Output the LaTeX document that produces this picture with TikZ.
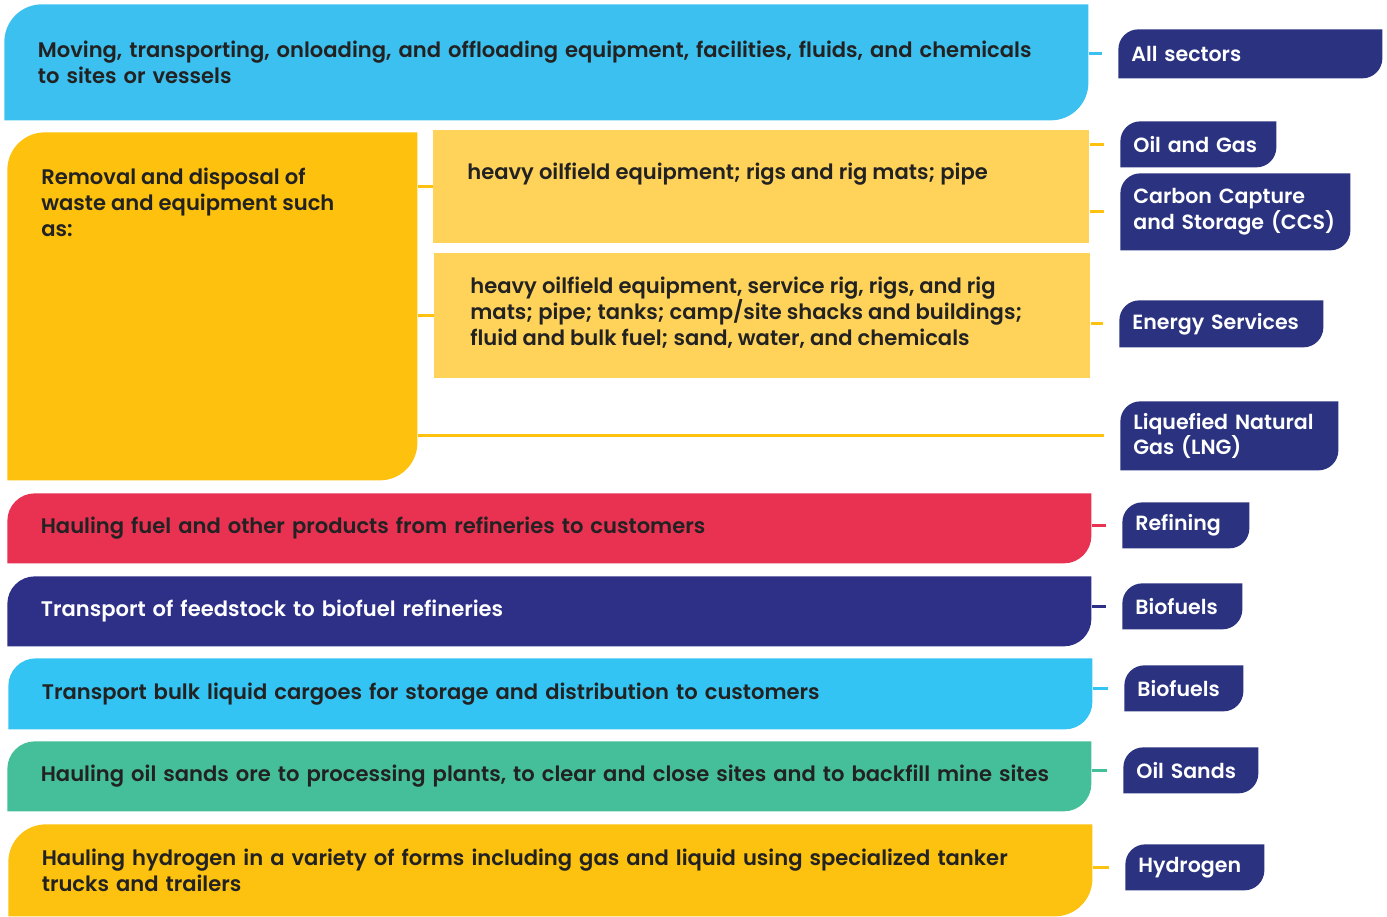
\documentclass[tikz,border=0pt]{standalone}
\usepackage{fontspec}
\setmainfont{Poppins}[UprightFont={* SemiBold},BoldFont={* Bold}]

\definecolor{movecyan}{HTML}{3CC0EF}
\definecolor{rmorange}{HTML}{FDC10E}
\definecolor{rigyellow}{HTML}{FFD35A}
\definecolor{refred}{HTML}{E93152}
\definecolor{feednavy}{HTML}{2E3087}
\definecolor{bulkcyan}{HTML}{33C4F4}
\definecolor{sandgreen}{HTML}{44BF99}
\definecolor{hydroyellow}{HTML}{FDC110}
\definecolor{labnavy}{HTML}{2B3380}
\definecolor{textdark}{HTML}{222222}

\tikzset{
  leaf/.style 2 args={path picture={
    \fill[#1] (path picture bounding box.south west)
      -- ([yshift=-#2]path picture bounding box.north west)
      arc[start angle=180, end angle=90, radius=#2]
      -- (path picture bounding box.north east)
      -- ([yshift=#2]path picture bounding box.south east)
      arc[start angle=0, end angle=-90, radius=#2]
      -- cycle;}},
  rowbox/.style={anchor=north west, inner xsep=0.67cm, inner ysep=0pt, text width=20.34cm, align=left, text=textdark, font=\fontsize{12}{14.8}\selectfont},
  subbox/.style={anchor=north west, fill=rigyellow, inner sep=0pt, minimum width=13.12cm},
  boxtext/.style={anchor=north west, inner sep=0pt, align=left, text=textdark, font=\fontsize{12}{14.8}\selectfont},
  sector/.style={anchor=north west, leaf={labnavy}{0.4cm}, inner xsep=0.26cm, inner ysep=0pt, align=left, text=white, font=\fontsize{11.7}{14.6}\selectfont},
  link/.style={line width=1.6pt, shorten >=0.32cm},
}

\begin{document}
\begin{tikzpicture}
\useasboundingbox (0,0) rectangle (27.74,-18.34);

\node[rowbox, leaf={movecyan}{0.75cm}, minimum height=2.32cm] (move) at (0.08,-0.08) {Moving, transporting, onloading, and offloading equipment, facilities, fluids, and chemicals\\to sites or vessels};

\node[leaf={rmorange}{0.75cm}, anchor=north west, inner sep=0pt, minimum width=8.20cm, minimum height=6.96cm] (removal) at (0.14,-2.64) {};
\node[boxtext] (removaltext) at ([xshift=0.68cm, yshift=-0.72cm]removal.north west) {Removal and disposal of\\waste and equipment such\\as:};

\node[subbox, minimum height=2.26cm] (rigs) at (8.66,-2.60) {};
\node[boxtext] (rigstext) at ([xshift=0.68cm, yshift=-0.66cm]rigs.north west) {heavy oilfield equipment; rigs and rig mats; pipe};
\node[subbox, minimum height=2.50cm] (fleet) at (8.68,-5.06) {};
\node[boxtext] (fleettext) at ([xshift=0.72cm, yshift=-0.47cm]fleet.north west) {heavy oilfield equipment, service rig, rigs, and rig\\mats; pipe; tanks; camp/site shacks and buildings;\\fluid and bulk fuel; sand, water, and chemicals};

\node[rowbox, leaf={refred}{0.55cm}, minimum height=1.40cm] (refine) at (0.14,-9.86) {Hauling fuel and other products from refineries to customers};
\node[rowbox, leaf={feednavy}{0.55cm}, minimum height=1.40cm, text=white] (feed) at (0.14,-11.52) {Transport of feedstock to biofuel refineries};
\node[rowbox, leaf={bulkcyan}{0.55cm}, minimum height=1.42cm] (bulk) at (0.16,-13.16) {Transport bulk liquid cargoes for storage and distribution to customers};
\node[rowbox, leaf={sandgreen}{0.55cm}, minimum height=1.40cm] (sands) at (0.14,-14.82) {Hauling oil sands ore to processing plants, to clear and close sites and to backfill mine sites};
\node[rowbox, leaf={hydroyellow}{0.75cm}, minimum height=1.84cm] (hydro) at (0.16,-16.48) {Hauling hydrogen in a variety of forms including gas and liquid using specialized tanker\\trucks and trailers};

\node[sector, text width=4.76cm, minimum height=0.98cm] (allsec) at (22.36,-0.58) {All sectors};
\node[sector, text width=2.60cm, minimum height=0.92cm] (oilgas) at (22.40,-2.42) {Oil and Gas};
\node[sector, text width=4.08cm, minimum height=1.54cm] (ccs) at (22.40,-3.46) {Carbon Capture\\and Storage (CCS)};
\node[sector, text width=3.56cm, minimum height=0.94cm] (enserv) at (22.38,-6.00) {Energy Services};
\node[sector, text width=3.84cm, minimum height=1.38cm] (lng) at (22.40,-8.02) {Liquefied Natural\\Gas (LNG)};
\node[sector, text width=2.02cm, minimum height=0.92cm] (refining) at (22.44,-10.04) {Refining};
\node[sector, text width=1.88cm, minimum height=0.92cm] (biofuelA) at (22.44,-11.66) {Biofuels};
\node[sector, text width=1.86cm, minimum height=0.92cm] (biofuelB) at (22.48,-13.30) {Biofuels};
\node[sector, text width=2.18cm, minimum height=0.92cm] (oilsands) at (22.46,-14.94) {Oil Sands};
\node[sector, text width=2.26cm, minimum height=0.92cm] (hydrogen) at (22.50,-16.88) {Hydrogen};

\draw[link, movecyan] (move.east |- allsec.west) -- (allsec.west);
\draw[link, rmorange, shorten >=0pt] (removal.east |- rigs.west) -- (rigs.west);
\draw[link, rmorange, shorten >=0pt] (removal.east |- fleet.west) -- (fleet.west);
\draw[link, rmorange] (removal.east |- lng.west) -- (lng.west);
\draw[link, rmorange] (rigs.east |- oilgas.west) -- (oilgas.west);
\draw[link, rmorange] (rigs.east |- ccs.west) -- (ccs.west);
\draw[link, rmorange] (fleet.east |- enserv.west) -- (enserv.west);
\draw[link, refred] (refine.east |- refining.west) -- (refining.west);
\draw[link, feednavy] (feed.east |- biofuelA.west) -- (biofuelA.west);
\draw[link, bulkcyan] (bulk.east |- biofuelB.west) -- (biofuelB.west);
\draw[link, sandgreen] (sands.east |- oilsands.west) -- (oilsands.west);
\draw[link, hydroyellow] (hydro.east |- hydrogen.west) -- (hydrogen.west);
\end{tikzpicture}
\end{document}
